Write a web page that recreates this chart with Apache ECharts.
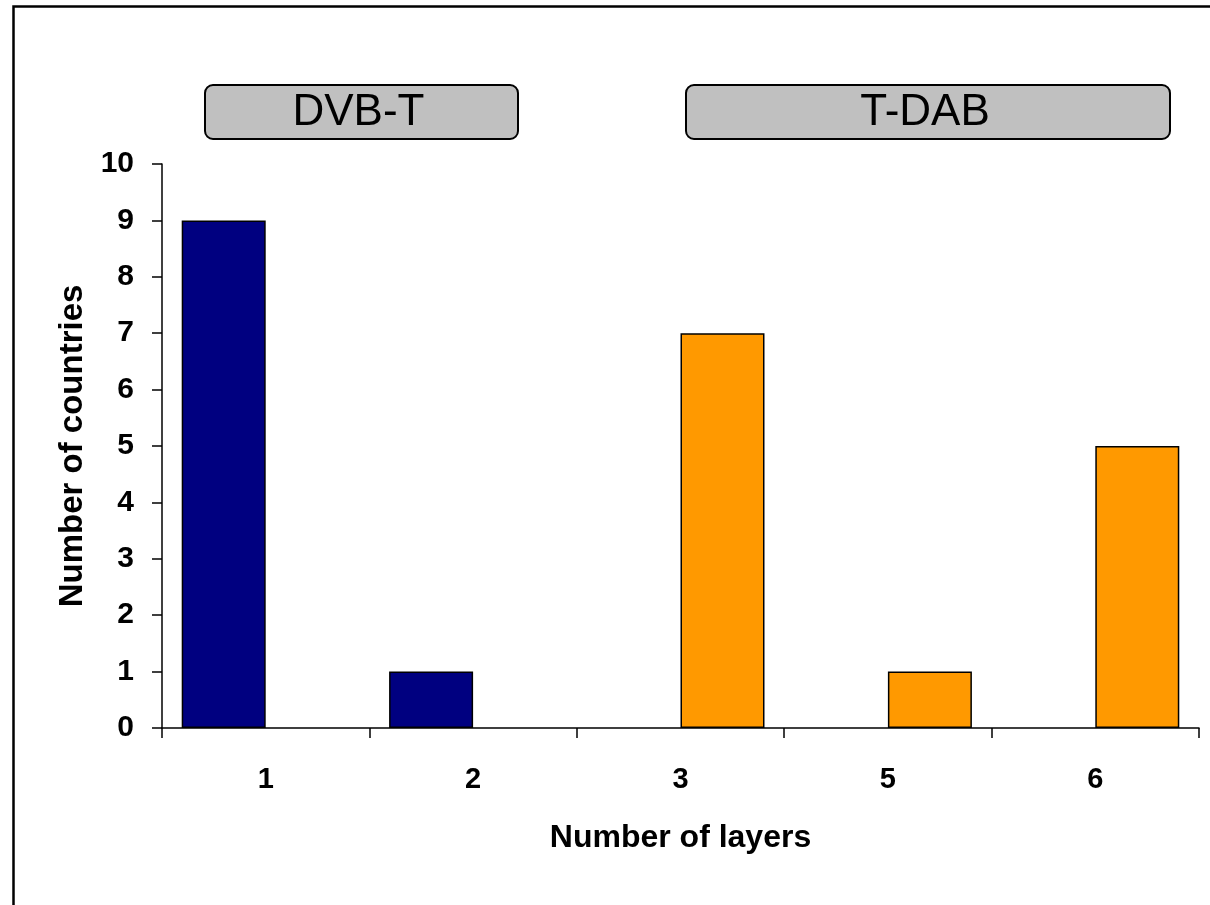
<!DOCTYPE html>
<html>
<head>
<meta charset="utf-8">
<script src="https://cdn.jsdelivr.net/npm/echarts@6/dist/echarts.min.js"></script>
<style>
html,body{margin:0;padding:0;background:#fff;}
#chart{width:1210px;height:905px;}
</style>
</head>
<body>
<div id="chart"></div>
<script>
var categories = ['1', '2', '3', '5', '6'];
var dvbtValues = [9, 1, '-', '-', '-'];
var tdabValues = ['-', '-', 7, 1, 5];
var yTicks = [0, 10, 1];
var groupLabels = ['DVB-T', 'T-DAB'];

var FONT = '"Liberation Sans", Arial, sans-serif';
var chart = echarts.init(document.getElementById('chart'), null, {renderer: 'canvas'});

function headerBox(x, w, label) {
  return {
    type: 'group', left: x, top: 84,
    children: [
      {type: 'rect', shape: {x: 0, y: 0, width: w, height: 54, r: 8},
       style: {fill: '#C0C0C0', stroke: '#000', lineWidth: 2}},
      {type: 'text', style: {x: w / 2 - 3, y: 28, text: label, fill: '#000',
        font: '44px ' + FONT, textAlign: 'center', textVerticalAlign: 'middle'}}
    ]
  };
}

var option = {
  backgroundColor: '#fff',
  animation: false,
  grid: {left: 162, top: 164, right: 11, bottom: 177, containLabel: false},
  xAxis: {
    type: 'category',
    data: categories,
    name: 'Number of layers',
    nameLocation: 'middle',
    nameGap: 94,
    nameTextStyle: {fontFamily: FONT, fontWeight: 'bold', fontSize: 32, color: '#000'},
    axisLine: {lineStyle: {color: '#000', width: 1.5}},
    axisTick: {show: true, length: 10, lineStyle: {color: '#000', width: 1.5}},
    axisLabel: {fontFamily: FONT, fontWeight: 'bold', fontSize: 29, color: '#000', margin: 37},
    splitLine: {show: false}
  },
  yAxis: {
    type: 'value',
    min: yTicks[0], max: yTicks[1], interval: yTicks[2],
    name: 'Number of countries',
    nameLocation: 'middle',
    nameGap: 58,
    nameTextStyle: {fontFamily: FONT, fontWeight: 'bold', fontSize: 33, color: '#000'},
    axisLine: {show: true, lineStyle: {color: '#000', width: 1.5}},
    axisTick: {show: true, length: 10, lineStyle: {color: '#000', width: 1.5}},
    axisLabel: {fontFamily: FONT, fontWeight: 'bold', fontSize: 30, color: '#000', margin: 28},
    splitLine: {show: false}
  },
  series: [
    {name: groupLabels[0], type: 'bar', data: dvbtValues, barGap: '0%', barCategoryGap: '19%',
     itemStyle: {color: '#000080', borderColor: '#000', borderWidth: 1.5}},
    {name: groupLabels[1], type: 'bar', data: tdabValues, barGap: '0%', barCategoryGap: '19%',
     itemStyle: {color: '#FF9900', borderColor: '#000', borderWidth: 1.5}}
  ],
  graphic: [
    {type: 'rect', left: 11, top: 4, shape: {x: 0, y: 0, width: 1220, height: 920},
     style: {fill: 'none', stroke: '#000', lineWidth: 2.5}, silent: true},
    headerBox(204, 313, groupLabels[0]),
    headerBox(685, 484, groupLabels[1])
  ]
};
chart.setOption(option);
</script>
</body>
</html>
